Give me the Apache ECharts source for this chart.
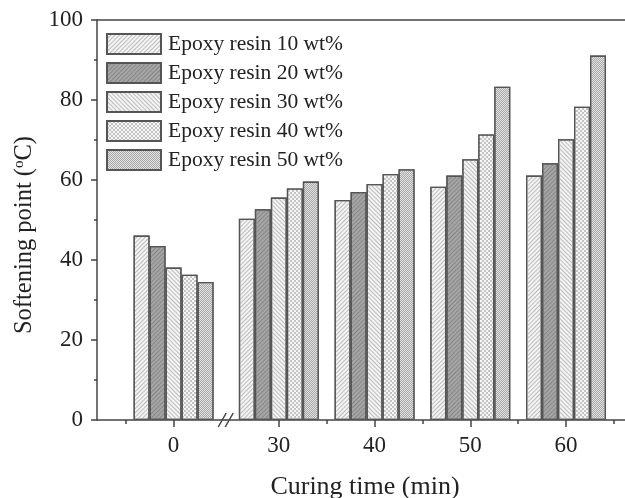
<!DOCTYPE html>
<html><head><meta charset="utf-8">
<script src="https://cdn.jsdelivr.net/npm/echarts@6/dist/echarts.min.js"></script>
<style>html,body{margin:0;padding:0;background:#fff}#c{width:625px;height:498px}</style>
</head><body><div id="c"></div>
<script>
const curingTimes = [0, 30, 40, 50, 60];
const seriesNames = ['Epoxy resin 10 wt%', 'Epoxy resin 20 wt%', 'Epoxy resin 30 wt%', 'Epoxy resin 40 wt%', 'Epoxy resin 50 wt%'];
const resin10 = [46.1, 50.3, 55.0, 58.3, 61.1];
const resin20 = [43.5, 52.7, 57.0, 61.1, 64.2];
const resin30 = [38.1, 55.6, 59.0, 65.2, 70.2];
const resin40 = [36.3, 57.9, 61.5, 71.4, 78.3];
const resin50 = [34.5, 59.6, 62.7, 83.3, 91.1];
const xLabelValues = [0, 30, 40, 50, 60];
const xMinorTickValues = [-5, 35, 45, 55, 65];
const xBreak = {start: 5.5, end: 24.5};

const FONT = "'Liberation Serif', 'Times New Roman', serif";
const TXT = '#222';
const AX = '#444';

const styles = [
  {color: '#f4f4f4', decal: {symbol: 'rect', symbolSize: 1, color: '#bcbcbc', dashArrayX: [1, 0], dashArrayY: [1, 2], rotation: -Math.PI / 4}},
  {color: '#a6a6a6', decal: {symbol: 'rect', symbolSize: 1, color: '#868686', dashArrayX: [1, 0], dashArrayY: [1, 2], rotation: -Math.PI / 4}},
  {color: '#f4f4f4', decal: {symbol: 'rect', symbolSize: 1, color: '#bcbcbc', dashArrayX: [1, 0], dashArrayY: [1, 2], rotation: Math.PI / 4}},
  {color: '#f6f6f6', decal: {symbol: 'rect', symbolSize: 1, color: '#c4c4c4', dashArrayX: [[2, 2], [0, 2, 2, 0]], dashArrayY: [2, 0], rotation: 0}},
  {color: '#e0e0e0', decal: {symbol: 'rect', symbolSize: 1, color: '#aaaaaa', dashArrayX: [[1, 1], [0, 1, 1, 0]], dashArrayY: [1, 0], rotation: 0}}
];
const allData = [resin10, resin20, resin30, resin40, resin50];

const xCommon = {
  type: 'value', min: -8, max: 67,
  breaks: [{start: xBreak.start, end: xBreak.end, gap: 0}],
  breakArea: {show: false},
  splitLine: {show: false}
};

const chart = echarts.init(document.getElementById('c'));
chart.setOption({
  animation: false,
  backgroundColor: '#fff',
  textStyle: {fontFamily: FONT},
  grid: [
    {left: 97, top: 20, right: -8, bottom: 78, containLabel: false, outerBoundsMode: 'none', show: false},
    {left: 97, top: 20, right: -8, bottom: 78, containLabel: false, outerBoundsMode: 'none', show: false}
  ],
  legend: {
    orient: 'vertical', left: 106, top: 33, padding: 0,
    icon: 'rect',
    itemWidth: 54, itemHeight: 20, itemGap: 7,
    textStyle: {fontFamily: FONT, fontSize: 21.5, color: TXT, padding: [0, 0, 0, 2]},
    data: seriesNames
  },
  xAxis: [
    Object.assign({}, xCommon, {
      gridIndex: 0, position: 'bottom',
      name: 'Curing time (min)', nameLocation: 'middle', nameGap: 54,
      nameTextStyle: {fontFamily: FONT, fontSize: 26, color: TXT},
      axisLine: {show: true, onZero: false, lineStyle: {color: AX, width: 1.5}},
      axisTick: {show: true, inside: false, length: 7, customValues: xLabelValues, lineStyle: {color: AX, width: 1.5}},
      axisLabel: {show: true, customValues: xLabelValues, margin: 14, fontFamily: FONT, fontSize: 23, color: TXT}
    }),
    Object.assign({}, xCommon, {
      gridIndex: 1, position: 'bottom',
      axisLine: {show: false, onZero: false},
      axisTick: {show: true, length: 4, customValues: xMinorTickValues, lineStyle: {color: AX, width: 1.5}},
      axisLabel: {show: false}
    }),
    {
      type: 'value', gridIndex: 1, position: 'top', min: 0, max: 1,
      axisLine: {show: true, onZero: false, lineStyle: {color: AX, width: 1.5}},
      axisTick: {show: false}, axisLabel: {show: false}, splitLine: {show: false}
    }
  ],
  yAxis: [
    {
      type: 'value', gridIndex: 0, min: 0, max: 100, interval: 20, position: 'left',
      name: 'Softening point ({sup|o}C)', nameLocation: 'middle', nameGap: 60,
      nameTextStyle: {fontFamily: FONT, fontSize: 24.5, color: TXT, padding: [0, 30, 0, 0], rich: {sup: {fontFamily: FONT, fontSize: 15, color: TXT, verticalAlign: 'top', padding: [0, 0, 9, 0]}}},
      axisLine: {show: true, onZero: false, lineStyle: {color: AX, width: 1.5}},
      axisTick: {show: true, length: 6, lineStyle: {color: AX, width: 1.5}},
      minorTick: {show: true, splitNumber: 2, length: 3, lineStyle: {color: AX, width: 1.5}},
      axisLabel: {margin: 14, fontFamily: FONT, fontSize: 23, color: TXT},
      splitLine: {show: false}
    },
    {type: 'value', gridIndex: 1, min: 0, max: 100, show: false}
  ],
  series: seriesNames.map((name, i) => ({
    name: name, type: 'bar', xAxisIndex: 0, yAxisIndex: 0,
    barWidth: 16, barGap: '0%',
    itemStyle: Object.assign({borderColor: '#555', borderWidth: 1.3}, styles[i]),
    data: curingTimes.map((t, j) => [t, allData[i][j]])
  }))
});

const bx = chart.convertToPixel({xAxisIndex: 0}, (xBreak.start + xBreak.end) / 2);
const by = chart.convertToPixel({yAxisIndex: 0}, 0);
chart.setOption({
  graphic: [
    {type: 'line', shape: {x1: bx - 8, y1: by + 7, x2: bx, y2: by - 7}, style: {stroke: AX, lineWidth: 1.5}, z: 100},
    {type: 'line', shape: {x1: bx - 1, y1: by + 7, x2: bx + 7, y2: by - 7}, style: {stroke: AX, lineWidth: 1.5}, z: 100}
  ]
});
</script></body></html>
